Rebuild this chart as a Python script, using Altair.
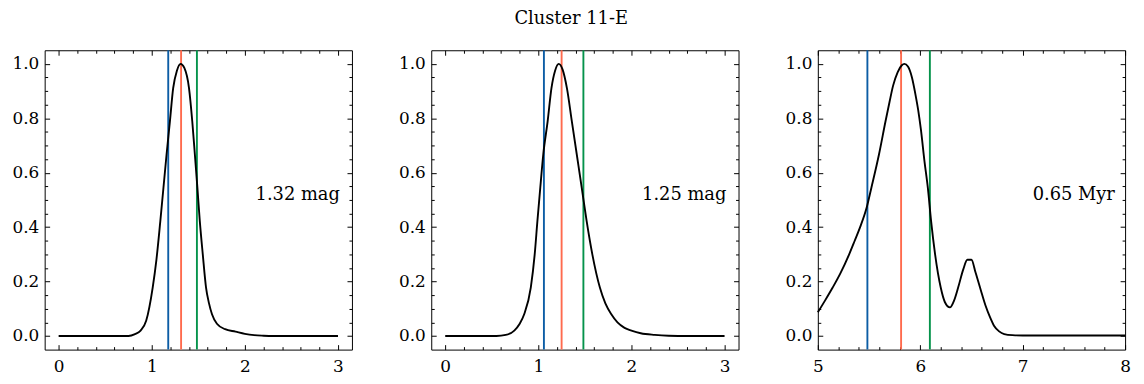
import altair as alt
import pandas as pd

TITLE = "Cluster 11-E"
FONT = "DejaVu Serif"

# Panel 1 curve (normalised distribution, extinction in mag)
p1_x = [0.0, 0.5, 0.75, 0.82, 0.88, 0.94, 1.01, 1.05, 1.092, 1.159, 1.195, 1.23, 1.27, 1.31,
        1.35, 1.40, 1.435, 1.463, 1.49, 1.516, 1.548, 1.583, 1.615, 1.647, 1.70, 1.788,
        1.9, 2.0, 2.1, 2.2, 2.3, 3.0]
p1_y = [0.0, 0.0, 0.0, 0.007, 0.02, 0.056, 0.178, 0.28, 0.422, 0.667, 0.789, 0.911, 0.975, 1.0,
        0.985, 0.911, 0.789, 0.667, 0.545, 0.422, 0.30, 0.178, 0.12, 0.08, 0.045, 0.025,
        0.016, 0.008, 0.003, 0.001, 0.0, 0.0]

# Panel 2 curve
p2_x = [0.0, 0.55, 0.65, 0.742, 0.80, 0.848, 0.919, 0.961, 0.99, 1.021, 1.053, 1.10, 1.141,
        1.18, 1.219, 1.26, 1.307, 1.36, 1.413, 1.466, 1.519, 1.58, 1.661, 1.72, 1.784, 1.85,
        1.926, 2.0, 2.10, 2.25, 2.4, 2.6, 3.0]
p2_y = [0.0, 0.0, 0.004, 0.02, 0.045, 0.08, 0.178, 0.30, 0.422, 0.545, 0.667, 0.789, 0.911,
        0.975, 1.0, 0.98, 0.911, 0.789, 0.667, 0.545, 0.422, 0.30, 0.178, 0.12, 0.08, 0.05,
        0.03, 0.02, 0.01, 0.004, 0.001, 0.0, 0.0]

# Panel 3 curve (age)
p3_x = [5.0, 5.07, 5.145, 5.22, 5.306, 5.36, 5.413, 5.477, 5.523, 5.597, 5.661, 5.70, 5.735,
        5.78, 5.82, 5.845, 5.88, 5.919, 5.952, 5.98, 6.006, 6.042, 6.074, 6.106, 6.145, 6.2,
        6.24, 6.29, 6.33, 6.37, 6.42, 6.46, 6.50, 6.54, 6.59, 6.638, 6.68, 6.72, 6.77, 6.82,
        6.9, 7.0, 8.0]
p3_y = [0.087, 0.13, 0.178, 0.23, 0.30, 0.35, 0.40, 0.472, 0.545, 0.667, 0.789, 0.86, 0.92,
        0.97, 0.995, 1.0, 0.99, 0.95, 0.89, 0.83, 0.76, 0.64, 0.545, 0.422, 0.30, 0.178,
        0.125, 0.105, 0.13, 0.178, 0.245, 0.28, 0.28, 0.233, 0.17, 0.111, 0.07, 0.038, 0.017,
        0.007, 0.003, 0.002, 0.002]

curves_x = [p1_x, p2_x, p3_x]
curves_y = [p1_y, p2_y, p3_y]

# vertical markers: lower, best, upper
blue_vals = [1.177, 1.06, 5.484]
red_vals = [1.315, 1.25, 5.813]
green_vals = [1.485, 1.484, 6.094]
marker_colors = ["#0C5DA5", "#FF6A4D", "#05934B"]

# annotations
ann_text = ["1.32 mag", "1.25 mag", "0.65 Myr"]
ann_x = [3.02, 3.02, 7.9]
ann_y = [0.5, 0.5, 0.5]

# axes
x_domains = [[-0.15, 3.15], [-0.15, 3.15], [5.0, 8.0]]
x_major = [[0, 1, 2, 3], [0, 1, 2, 3], [5, 6, 7, 8]]
x_minor = [
    [0.2, 0.4, 0.6, 0.8, 1.2, 1.4, 1.6, 1.8, 2.2, 2.4, 2.6, 2.8],
    [0.2, 0.4, 0.6, 0.8, 1.2, 1.4, 1.6, 1.8, 2.2, 2.4, 2.6, 2.8],
    [5.2, 5.4, 5.6, 5.8, 6.2, 6.4, 6.6, 6.8, 7.2, 7.4, 7.6, 7.8],
]
y_domain = [-0.05, 1.05]
y_major = [0.0, 0.2, 0.4, 0.6, 0.8, 1.0]
y_minor = [0.05, 0.1, 0.15, 0.25, 0.3, 0.35, 0.45, 0.5, 0.55, 0.65, 0.7, 0.75, 0.85, 0.9, 0.95]

W, H = 310, 302
MAJ, MIN = 5, 3


def axis(orient, values, size, labels, fmt=None):
    kw = dict(orient=orient, values=values, tickSize=size, offset=-size, labels=labels,
              domain=False, grid=False, title=None, tickColor="black", tickWidth=1,
              labelFlush=False, labelOverlap=False)
    if labels:
        kw["format"] = fmt
        kw["labelPadding"] = 6 if orient == "left" else 9
    return alt.Axis(**kw)


def panel(i):
    df = pd.DataFrame({"x": curves_x[i], "y": curves_y[i]})
    xs = alt.Scale(domain=x_domains[i], nice=False, zero=False)
    ys = alt.Scale(domain=y_domain, nice=False, zero=False)
    base = alt.Chart(df)

    line = base.mark_line(color="black", strokeWidth=1.9, interpolate="monotone").encode(
        x=alt.X("x:Q", scale=xs, axis=axis("bottom", x_major[i], MAJ, True, "d")),
        y=alt.Y("y:Q", scale=ys, axis=axis("left", y_major, MAJ, True, ".1f")),
    )

    def ghost(xo, xv, xsz, yo, yv, ysz):
        return base.mark_point(opacity=0).encode(
            x=alt.X("x:Q", scale=xs, axis=axis(xo, xv, xsz, False)),
            y=alt.Y("y:Q", scale=ys, axis=axis(yo, yv, ysz, False)),
        )

    g1 = ghost("bottom", x_minor[i], MIN, "left", y_minor, MIN)
    g2 = ghost("top", x_major[i], MAJ, "right", y_major, MAJ)
    g3 = ghost("top", x_minor[i], MIN, "right", y_minor, MIN)

    mdf = pd.DataFrame({
        "v": [blue_vals[i], red_vals[i], green_vals[i]],
        "k": ["lower", "best", "upper"],
    })
    rules = alt.Chart(mdf).mark_rule(strokeWidth=1.9).encode(
        x=alt.X("v:Q", scale=xs, axis=None),
        color=alt.Color("k:N", scale=alt.Scale(domain=["lower", "best", "upper"],
                                                range=marker_colors), legend=None),
    )

    tdf = pd.DataFrame({"x": [ann_x[i]], "y": [ann_y[i]], "t": [ann_text[i]]})
    text = alt.Chart(tdf).mark_text(align="right", baseline="alphabetic", font=FONT,
                                     fontSize=18, color="black").encode(
        x=alt.X("x:Q", scale=xs, axis=None),
        y=alt.Y("y:Q", scale=ys, axis=None),
        text="t:N",
    )

    return alt.layer(rules, line, text, g1, g2, g3).resolve_axis(
        x="independent", y="independent").properties(width=W, height=H)


chart = alt.hconcat(panel(0), panel(1), panel(2), spacing=45).properties(
    title=alt.TitleParams(TITLE, anchor="middle", font=FONT, fontSize=18,
                          fontWeight="normal", color="black", baseline="alphabetic",
                          offset=7),
    padding={"left": 3, "top": 0, "right": 5, "bottom": 0},
).configure_view(stroke="black", strokeWidth=1).configure_axis(
    labelFont=FONT, labelFontSize=17, labelColor="black"
)

chart.save("out.html", embed_options={"renderer": "svg", "actions": False})
